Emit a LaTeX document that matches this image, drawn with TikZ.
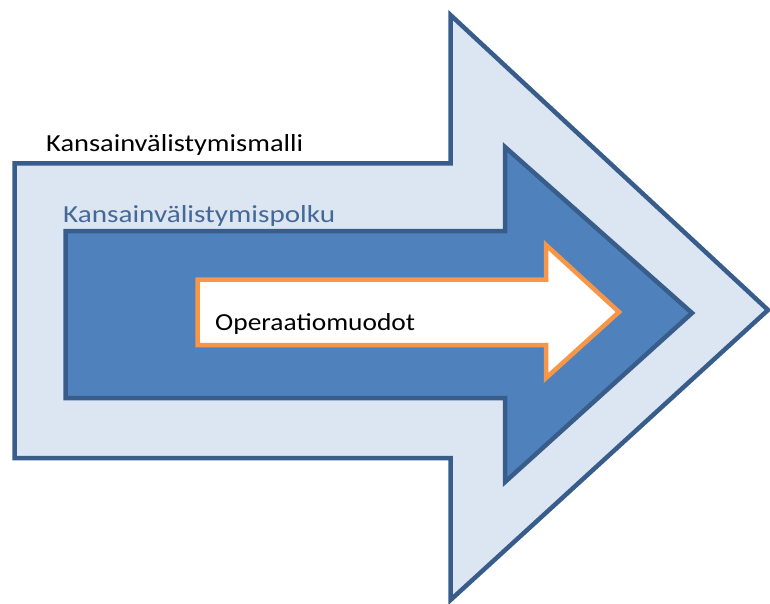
\documentclass[tikz,border=0pt]{standalone}
\usepackage{fontspec}
\setmainfont{Carlito}
\begin{document}
\begin{tikzpicture}[x=1pt,y=-1pt,
  outerarrow/.style={fill={rgb,255:red,220;green,230;blue,242},draw={rgb,255:red,56;green,93;blue,138},line width=4.5pt,line join=miter},
  midarrow/.style={fill={rgb,255:red,79;green,129;blue,189},draw={rgb,255:red,56;green,93;blue,138},line width=4.5pt,line join=miter},
  innerarrow/.style={fill=white,draw={rgb,255:red,247;green,150;blue,70},line width=4.5pt,line join=miter},
  lbl/.style={inner sep=0pt,anchor=base west,font=\fontsize{24.5}{28}\selectfont}]
\useasboundingbox (0,0) rectangle (770,604);
% outer arrow
\draw[outerarrow] (14.5,163.5) -- (450.5,163.5) -- (450.5,15) -- (768,310) -- (450.5,600) -- (450.5,458) -- (14.5,458) -- cycle;
% middle arrow
\draw[midarrow] (65.5,231) -- (505,231) -- (505,147) -- (692,313) -- (505,482) -- (505,398) -- (65.5,398) -- cycle;
% inner arrow
\draw[innerarrow] (197.5,279.5) -- (546,279.5) -- (546,245) -- (619,312) -- (546,378) -- (546,345) -- (197.5,345) -- cycle;
% labels
\node[lbl] (malli) at (46,152) {\scalebox{1.16}[1]{Kansainvälistymismalli}};
\node[lbl,text={rgb,255:red,70;green,104;blue,150}] (polku) at (63,222) {\scalebox{1.19}[1]{Kansainvälistymispolku}};
\node[lbl] (muodot) at (215,330) {\scalebox{1.12}[1]{Operaatiomuodot}};
\end{tikzpicture}
\end{document}
